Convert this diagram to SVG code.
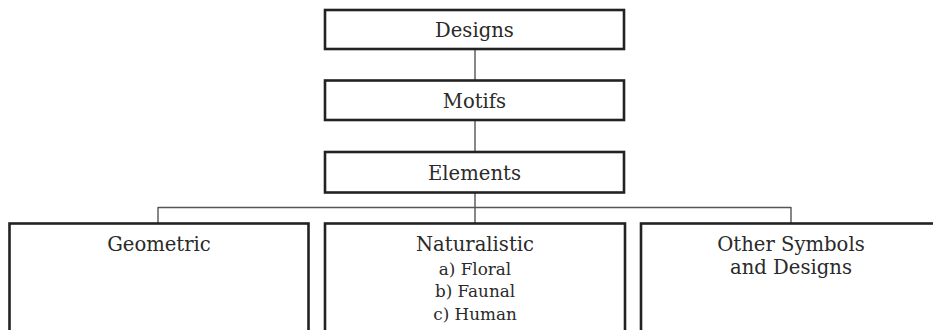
<svg xmlns="http://www.w3.org/2000/svg" width="933" height="330" viewBox="0 0 933 330">
<style>
.box{fill:#fff;stroke:#222;stroke-width:2.6}
.con{fill:none;stroke:#555;stroke-width:1.4}
.t{font-family:"DejaVu Serif","Liberation Serif",serif;font-size:19.6px;fill:#2a2a2a;text-anchor:middle}
.s{font-family:"DejaVu Serif","Liberation Serif",serif;font-size:16.8px;fill:#2a2a2a;text-anchor:middle}
</style>
<rect width="933" height="330" fill="#fff"/>
<g id="connectors">
<path class="con" d="M475 49V80M475 120V152M475 193V208M158 207.5H791M158 207V223M475 207V223M791 207V223"/>
</g>
<g id="designs"><rect class="box" x="325" y="10" width="299" height="39"/><text class="t" x="474.5" y="37">Designs</text></g>
<g id="motifs"><rect class="box" x="325" y="80.5" width="299" height="39.5"/><text class="t" x="474.5" y="108">Motifs</text></g>
<g id="elements"><rect class="box" x="325" y="152" width="299" height="40.5"/><text class="t" x="474.5" y="180">Elements</text></g>
<g id="geometric"><rect class="box" x="9.5" y="223.5" width="299" height="120"/><text class="t" x="159" y="251">Geometric</text></g>
<g id="naturalistic"><rect class="box" x="325" y="223.5" width="300" height="120"/><text class="t" x="475" y="251">Naturalistic</text><text class="s" x="475" y="275">a) Floral</text><text class="s" x="475" y="297">b) Faunal</text><text class="s" x="475" y="320">c) Human</text></g>
<g id="other"><rect class="box" x="641" y="223.5" width="300" height="120"/><text class="t" x="791" y="251">Other Symbols</text><text class="t" x="791" y="274">and Designs</text></g>
</svg>
